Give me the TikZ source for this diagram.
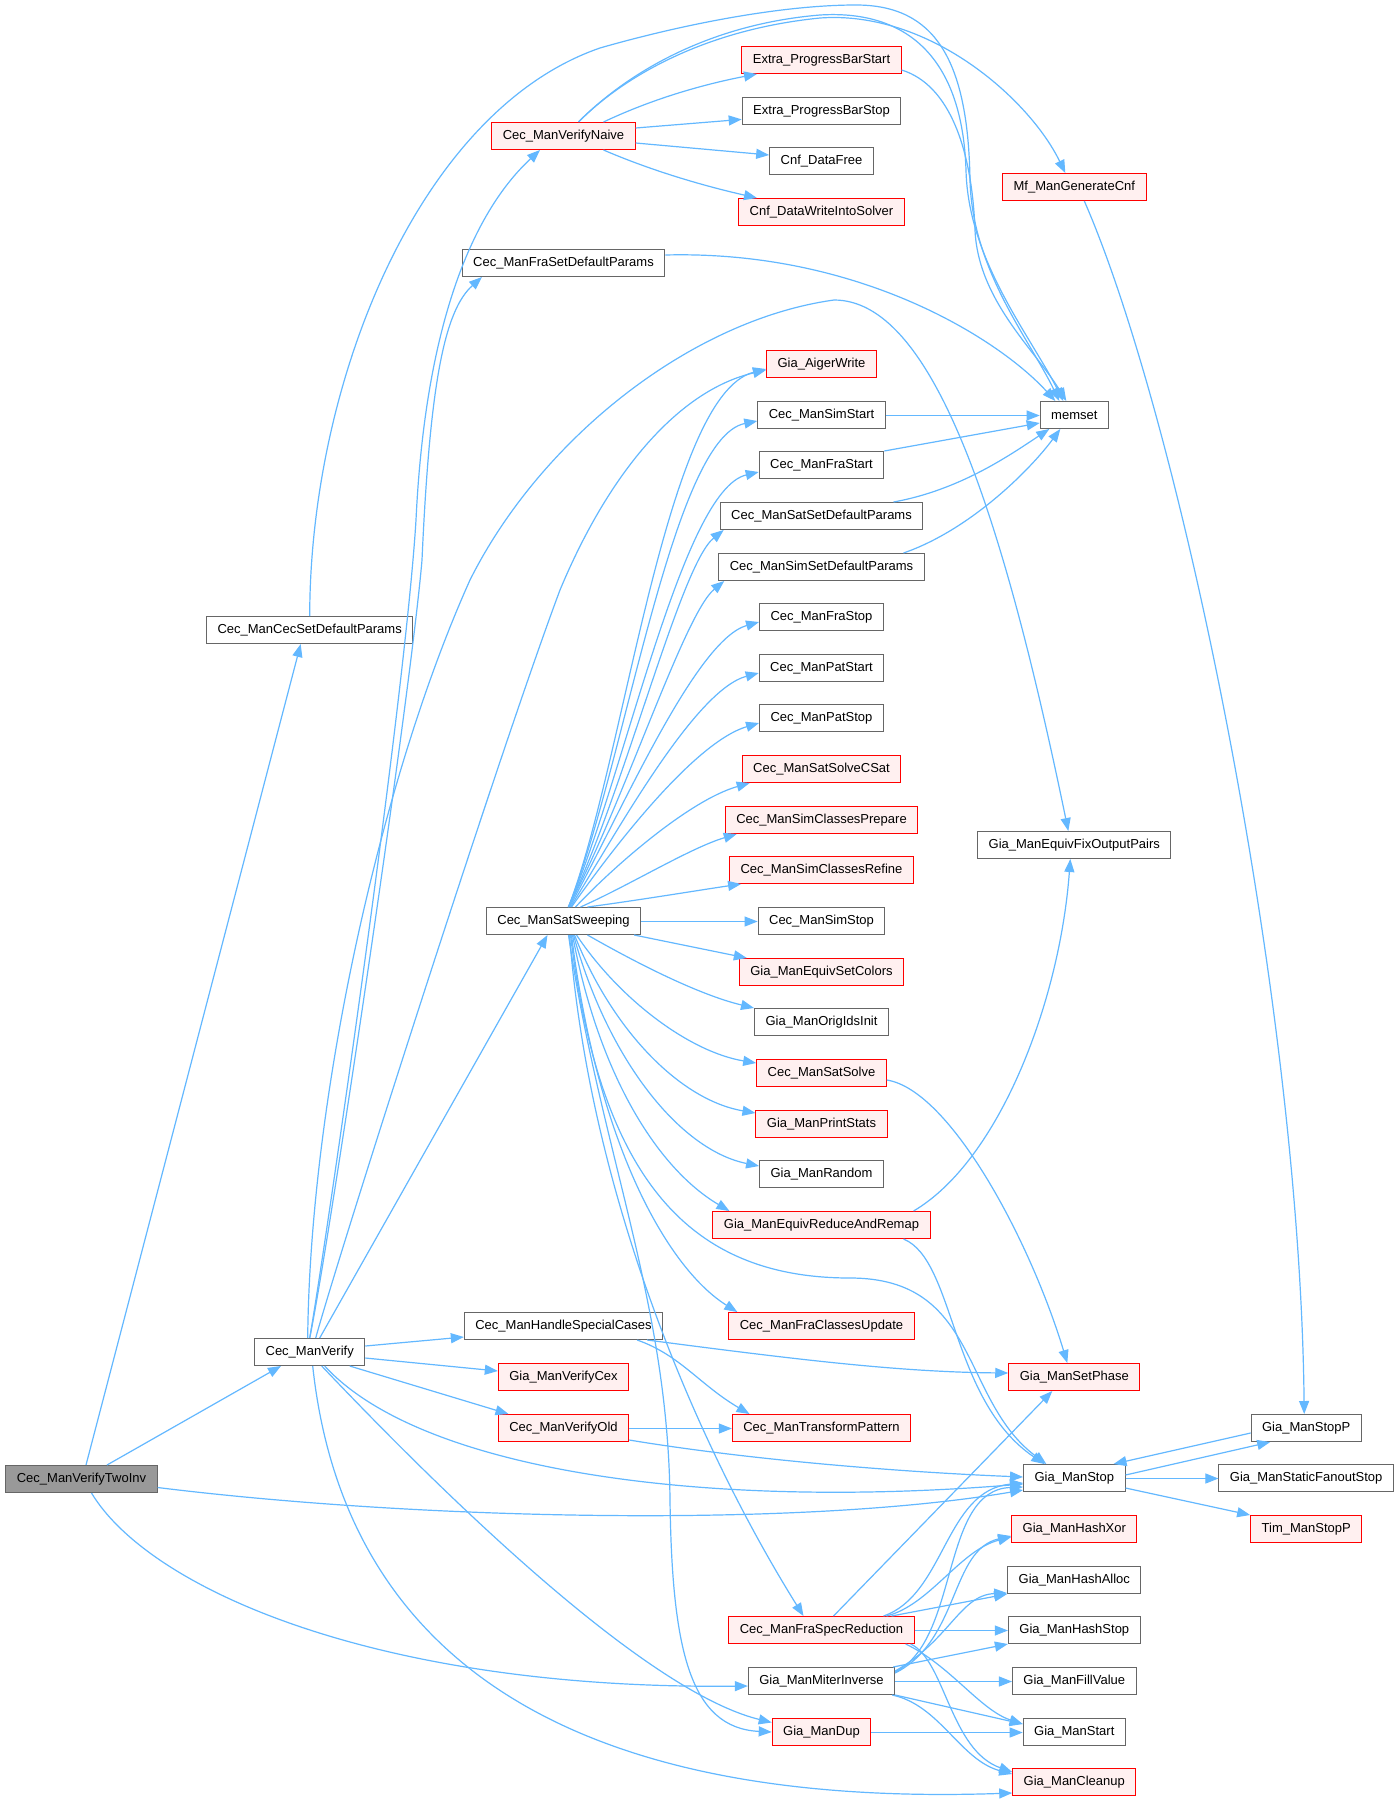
\documentclass[tikz,border=0pt]{standalone}
\usepackage{fontspec}
\setmainfont{Liberation Sans}
\usetikzlibrary{arrows.meta}
\definecolor{boxgray}{HTML}{666666}
\definecolor{redfill}{HTML}{FFF0F0}
\definecolor{rootfill}{HTML}{999999}
\definecolor{edgeblue}{HTML}{63B8FF}
\begin{document}
\begin{tikzpicture}[x=1pt,y=-1pt,
  fn/.style={draw=boxgray, fill=white, line width=1pt, minimum height=27pt,
    inner xsep=11pt, inner ysep=0pt, font=\fontsize{13}{15}\selectfont, text=black},
  redfn/.style={fn, draw=red, fill=redfill},
  rootfn/.style={fn, fill=rootfill},
  arr/.style={draw=edgeblue, line width=1.2pt, -{Triangle[length=13pt,width=10pt]}},
  harr/.style={arr, line width=1pt}]
\useasboundingbox (0,0) rectangle (1399,1807);
\fill[white] (0,0) rectangle (1399,1807);

% column 0 / 1
\node[rootfn] (root) at (81.5,1479) {Cec\_ManVerifyTwoInv};
\node[fn] (cecdef) at (309.7,630) {Cec\_ManCecSetDefaultParams};
\node[fn] (verify) at (309.7,1352) {Cec\_ManVerify};
% column 2
\node[redfn] (naive) at (563.5,136) {Cec\_ManVerifyNaive};
\node[fn] (fradef) at (563.5,263) {Cec\_ManFraSetDefaultParams};
\node[fn] (sweep) at (563.5,921) {Cec\_ManSatSweeping};
\node[fn] (special) at (563.5,1326) {Cec\_ManHandleSpecialCases};
\node[redfn] (vcex) at (563.5,1377) {Gia\_ManVerifyCex};
\node[redfn] (vold) at (563.5,1428) {Cec\_ManVerifyOld};
% column 3
\node[redfn] (pbstart) at (821.5,60) {Extra\_ProgressBarStart};
\node[fn] (pbstop) at (821.5,111) {Extra\_ProgressBarStop};
\node[fn] (cnffree) at (821.5,161) {Cnf\_DataFree};
\node[redfn] (cnfwrite) at (821.5,212) {Cnf\_DataWriteIntoSolver};
\node[redfn] (aiger) at (821.5,364) {Gia\_AigerWrite};
\node[fn] (simstart) at (821.5,415) {Cec\_ManSimStart};
\node[fn] (frastart) at (821.5,465) {Cec\_ManFraStart};
\node[fn] (satdef) at (821.5,516) {Cec\_ManSatSetDefaultParams};
\node[fn] (simdef) at (821.5,567) {Cec\_ManSimSetDefaultParams};
\node[fn] (frastop) at (821.5,617) {Cec\_ManFraStop};
\node[fn] (patstart) at (821.5,668) {Cec\_ManPatStart};
\node[fn] (patstop) at (821.5,718) {Cec\_ManPatStop};
\node[redfn] (csat) at (821.5,769) {Cec\_ManSatSolveCSat};
\node[redfn] (prepare) at (821.5,820) {Cec\_ManSimClassesPrepare};
\node[redfn] (refine) at (821.5,870) {Cec\_ManSimClassesRefine};
\node[fn] (simstop) at (821.5,921) {Cec\_ManSimStop};
\node[redfn] (colors) at (821.5,972) {Gia\_ManEquivSetColors};
\node[fn] (origids) at (821.5,1022) {Gia\_ManOrigIdsInit};
\node[redfn] (satsolve) at (821.5,1073) {Cec\_ManSatSolve};
\node[redfn] (pstats) at (821.5,1124) {Gia\_ManPrintStats};
\node[fn] (random) at (821.5,1174) {Gia\_ManRandom};
\node[redfn] (remap) at (821.5,1225) {Gia\_ManEquivReduceAndRemap};
\node[redfn] (fcupd) at (821.5,1326) {Cec\_ManFraClassesUpdate};
\node[redfn] (transform) at (821.5,1428) {Cec\_ManTransformPattern};
\node[redfn] (specred) at (821.5,1630) {Cec\_ManFraSpecReduction};
\node[fn] (miter) at (821.5,1681) {Gia\_ManMiterInverse};
\node[redfn] (dup) at (821.5,1732) {Gia\_ManDup};
% column 4
\node[redfn] (mf) at (1074.3,187) {Mf\_ManGenerateCnf};
\node[fn] (memset) at (1074.3,415) {memset};
\node[fn] (fixout) at (1074.3,845) {Gia\_ManEquivFixOutputPairs};
\node[redfn] (setphase) at (1074.3,1377) {Gia\_ManSetPhase};
\node[fn] (stop) at (1074.3,1478) {Gia\_ManStop};
\node[redfn] (hashxor) at (1074.3,1529) {Gia\_ManHashXor};
\node[fn] (hashalloc) at (1074.3,1580) {Gia\_ManHashAlloc};
\node[fn] (hashstop) at (1074.3,1630) {Gia\_ManHashStop};
\node[fn] (fillvalue) at (1074.3,1681) {Gia\_ManFillValue};
\node[fn] (start) at (1074.3,1732) {Gia\_ManStart};
\node[redfn] (cleanup) at (1074.3,1782) {Gia\_ManCleanup};
% column 5
\node[fn] (stopp) at (1306.2,1428) {Gia\_ManStopP};
\node[fn] (fanout) at (1306.2,1478) {Gia\_ManStaticFanoutStop};
\node[redfn] (tim) at (1306.2,1529) {Tim\_ManStopP};

% root
\draw[arr] ([xshift=4.5pt]root.north) -- ([xshift=-9pt]cecdef.south);
\draw[arr] ([xshift=25.5pt]root.north) -- ([xshift=-28.7pt]verify.south);
\draw[arr] ([yshift=-8.5pt]root.east) .. controls (420,1520) and (800,1528) .. ([yshift=-12pt]stop.west);
\draw[arr] ([xshift=10pt]root.south) .. controls (150,1590) and (380,1690) .. ([yshift=-5pt]miter.west);

% Cec_ManCecSetDefaultParams
\draw[arr] (cecdef.north) .. controls (310,380) and (420,110) .. (600,48)
  .. controls (680,25) and (780,5) .. (856,5)
  .. controls (935,5) and (968,60) .. (970,180)
  .. controls (972,270) and (1030,340) .. ([xshift=-15pt]memset.north);

% Cec_ManVerify
\draw[arr] (verify.north) .. controls (325,1250) and (405,700) .. (416,520)
  .. controls (425,330) and (470,215) .. ([xshift=-23.5pt]naive.south);
\draw[arr] (verify.north) .. controls (328,1250) and (410,700) .. (422,560)
  .. controls (430,380) and (445,310) .. ([xshift=-81.5pt]fradef.south);
\draw[arr] ([xshift=-2pt]verify.north) .. controls (310,1100) and (380,780) .. (470,580)
  .. controls (540,440) and (690,320) .. (834,300)
  .. controls (930,300) and (1000,500) .. ([xshift=-6pt]fixout.north);
\draw[arr] ([xshift=6pt]verify.north) .. controls (340,1250) and (500,750) .. (560,590)
  .. controls (610,470) and (680,390) .. ([yshift=-6pt]aiger.west);
\draw[arr] ([xshift=10pt]verify.north) -- ([xshift=-16pt]sweep.south);
\draw[arr] ([yshift=6pt]verify.east) -- ([yshift=-11pt]special.west);
\draw[arr] ([yshift=-6pt]verify.east) -- ([yshift=6pt]vcex.west);
\draw[arr] ([xshift=40pt]verify.south) -- ([xshift=-55pt]vold.north);
\draw[arr] ([xshift=15pt]verify.south) .. controls (420,1470) and (700,1510) .. ([yshift=-6pt]stop.west);
\draw[arr] ([xshift=12pt]verify.south) .. controls (430,1480) and (640,1690) .. ([yshift=9.5pt]dup.west);
\draw[arr] ([xshift=3pt]verify.south) .. controls (340,1620) and (520,1810) .. ([yshift=-11pt]cleanup.west);

% Cec_ManVerifyNaive
\draw[arr] ([xshift=15pt]naive.north) .. controls (620,80) and (700,25) .. (820,15)
  .. controls (900,10) and (962,50) .. (966,170)
  .. controls (968,260) and (1030,335) .. ([xshift=-11pt]memset.north);
\draw[arr] ([xshift=15pt]naive.north) .. controls (620,80) and (700,30) .. (820,18)
  .. controls (930,10) and (1030,100) .. ([xshift=-9pt]mf.north);
\draw[arr] ([xshift=40pt]naive.north) .. controls (650,100) and (700,85) .. ([xshift=-64.5pt]pbstart.south);
\draw[arr] ([yshift=8pt]naive.east) -- ([yshift=-8.4pt]pbstop.west);
\draw[arr] ([yshift=-7pt]naive.east) -- ([yshift=6pt]cnffree.west);
\draw[arr] ([xshift=40pt]naive.south) .. controls (650,170) and (700,185) .. ([xshift=-64.5pt]cnfwrite.north);

% memset callers
\draw[arr] ([yshift=-10pt]pbstart.east) .. controls (950,85) and (972,150) .. (975,230)
  .. controls (978,300) and (1035,350) .. ([xshift=-8pt]memset.north);
\draw[arr] ([yshift=8pt]fradef.east) .. controls (860,250) and (1000,340) .. ([xshift=-19pt]memset.north);
\draw[harr] ([yshift=-0.5pt]simstart.east) -- ([yshift=-0.5pt]memset.west);
\draw[arr] (frastart.north east) -- ([yshift=-8pt]memset.west);
\draw[arr] ([xshift=72pt]satdef.north) .. controls (960,490) and (1010,455) .. ([xshift=-25pt]memset.south);
\draw[arr] ([xshift=82pt]simdef.north) .. controls (970,530) and (1030,470) .. ([xshift=-14pt]memset.south);

% Mf_ManGenerateCnf
\draw[arr] ([xshift=10pt]mf.south) .. controls (1180,420) and (1300,1000) .. ([xshift=-2pt]stopp.north);

% Cec_ManSatSweeping, upward fan
\draw[arr] ([xshift=5pt]sweep.north) .. controls (625,760) and (665,395) .. ([yshift=-5pt]aiger.west);
\draw[arr] ([xshift=5pt]sweep.north) .. controls (625,765) and (672,438) .. ([yshift=-6pt]simstart.west);
\draw[arr] ([xshift=5pt]sweep.north) .. controls (625,775) and (682,490) .. ([yshift=-7pt]frastart.west);
\draw[arr] ([xshift=5pt]sweep.north) .. controls (625,790) and (680,565) .. ([xshift=4pt]satdef.south west);
\draw[arr] ([xshift=5pt]sweep.north) .. controls (625,800) and (684,614) .. ([xshift=6pt]simdef.south west);
\draw[arr] ([xshift=6pt]sweep.north) .. controls (620,815) and (695,640) .. ([yshift=-5pt]frastop.west);
\draw[arr] ([xshift=7pt]sweep.north) .. controls (618,830) and (695,690) .. ([yshift=-5pt]patstart.west);
\draw[arr] ([xshift=8pt]sweep.north) .. controls (615,845) and (695,742) .. ([yshift=-5pt]patstop.west);
\draw[arr] ([xshift=12pt]sweep.north) .. controls (615,865) and (690,800) .. ([xshift=8pt]csat.south west);
\draw[arr] ([xshift=17pt]sweep.north) .. controls (630,885) and (690,848) .. ([xshift=12pt]prepare.south west);
\draw[arr] ([xshift=24pt]sweep.north) .. controls (640,900) and (700,890) .. ([xshift=12pt]refine.south west);
\draw[harr] ([yshift=-0.5pt]sweep.east) -- ([yshift=-0.5pt]simstop.west);
% downward fan
\draw[arr] ([xshift=-7pt]sweep.south east) -- ([xshift=8pt]colors.north west);
\draw[arr] ([xshift=24pt]sweep.south) .. controls (640,965) and (700,995) .. (origids.north west);
\draw[arr] ([xshift=13pt]sweep.south) .. controls (620,1000) and (690,1052) .. ([yshift=10pt]satsolve.west);
\draw[arr] ([xshift=11pt]sweep.south) .. controls (612,1030) and (680,1100) .. ([yshift=11pt]pstats.west);
\draw[arr] ([xshift=10pt]sweep.south) .. controls (608,1060) and (680,1150) .. ([yshift=8pt]random.west);
\draw[arr] ([xshift=9pt]sweep.south) .. controls (600,1080) and (660,1170) .. ([xshift=17pt]remap.north west);
\draw[arr] ([xshift=8pt]sweep.south) .. controls (598,1150) and (670,1270) .. ([xshift=9pt]fcupd.north west);
\draw[arr] ([xshift=7pt]sweep.south) .. controls (600,1180) and (690,1278) .. (850,1278)
  .. controls (980,1278) and (960,1400) .. ([xshift=-28pt]stop.north);
\draw[arr] ([xshift=6pt]sweep.south) .. controls (590,1200) and (700,1450) .. ([xshift=-18pt]specred.north);
\draw[arr] ([xshift=5pt]sweep.south) .. controls (600,1150) and (668,1300) .. (670,1500)
  .. controls (672,1650) and (690,1728) .. (dup.west);

% middle
\draw[arr] ([yshift=-7pt]satsolve.east) .. controls (950,1090) and (1030,1240) .. ([xshift=-7pt]setphase.north);
\draw[arr] ([xshift=-17pt]remap.north east) .. controls (1000,1160) and (1060,1000) .. ([xshift=-4pt]fixout.south);
\draw[arr] ([xshift=-27pt]remap.south east) .. controls (955,1260) and (950,1400) .. ([xshift=-30pt]stop.north);
\draw[arr] ([xshift=-16pt]special.south east) .. controls (800,1360) and (900,1372) .. ([yshift=4pt]setphase.west);
\draw[arr] ([xshift=-26pt]special.south east) .. controls (680,1355) and (700,1385) .. ([xshift=-72pt]transform.north);
\draw[harr] ([yshift=-0.5pt]vold.east) -- ([yshift=-0.5pt]transform.west);
\draw[arr] ([yshift=-12pt]vold.east) .. controls (750,1460) and (900,1472) .. ([yshift=1pt]stop.west);

% Gia_ManStop
\draw[arr] ([yshift=3pt]stop.east) -- ([xshift=-36pt]stopp.south);
\draw[arr] ([yshift=-5pt]stopp.west) -- ([xshift=-12pt]stop.north east);
\draw[harr] ([yshift=-0.5pt]stop.east) -- ([yshift=-0.5pt]fanout.west);
\draw[arr] ([yshift=-10pt]stop.east) -- (tim.north west);

% Cec_ManFraSpecReduction
\draw[arr] ([xshift=12pt]specred.north) -- ([xshift=-22pt]setphase.south);
\draw[arr] ([xshift=65pt]specred.north) .. controls (930,1605) and (960,1550) .. ([yshift=-8pt]hashxor.west);
\draw[arr] ([xshift=70pt]specred.north) -- (hashalloc.south west);
\draw[harr] ([yshift=-0.5pt]specred.east) -- ([yshift=-0.5pt]hashstop.west);
\draw[arr] ([xshift=-9pt]specred.south east) .. controls (950,1665) and (980,1710) .. ([yshift=8pt]start.west);
\draw[arr] ([xshift=-4pt]specred.south east) .. controls (945,1660) and (950,1750) .. ([yshift=10pt]cleanup.west);
\draw[arr] ([xshift=62pt]specred.north) .. controls (945,1595) and (945,1490) .. ([yshift=-5pt]stop.west);

% Gia_ManMiterInverse
\draw[arr] ([yshift=9pt]miter.east) .. controls (960,1640) and (940,1490) .. ([yshift=-9pt]stop.west);
\draw[arr] ([yshift=8pt]miter.east) .. controls (960,1640) and (950,1550) .. ([yshift=-7pt]hashxor.west);
\draw[arr] ([yshift=10pt]miter.east) .. controls (950,1640) and (960,1595) .. ([yshift=1pt]hashalloc.south west);
\draw[arr] ([xshift=-2pt]miter.north east) -- (hashstop.south west);
\draw[harr] ([yshift=-0.5pt]miter.east) -- ([yshift=-0.5pt]fillvalue.west);
\draw[arr] (miter.south east) -- ([yshift=8pt]start.west);
\draw[arr] ([xshift=-3pt]miter.south east) .. controls (940,1705) and (960,1760) .. ([yshift=8pt]cleanup.west);

% Gia_ManDup
\draw[harr] ([yshift=-0.5pt]dup.east) -- ([yshift=-0.5pt]start.west);
\end{tikzpicture}
\end{document}
